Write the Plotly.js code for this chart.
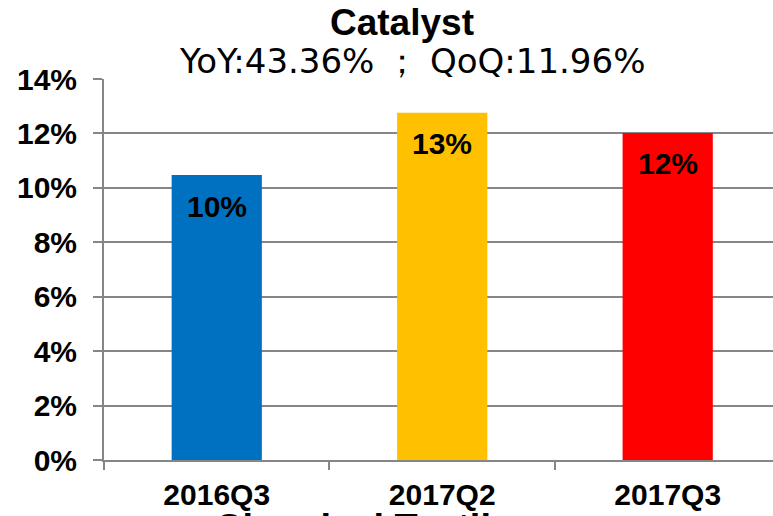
<!DOCTYPE html>
<html>
<head>
<meta charset="utf-8">
<script src="https://cdn.plot.ly/plotly-3.0.1.min.js"></script>
<style>html,body{margin:0;padding:0;background:#fff;}#chart{width:773px;height:516px;}</style>
</head>
<body>
<div id="chart"></div>
<script>
const categories = ["2016Q3", "2017Q2", "2017Q3"];
const values = [10.47, 12.76, 12.02];
const barColors = ["#0070C0", "#FFC000", "#FF0000"];
const yTickVals = [0, 2, 4, 6, 8, 10, 12, 14];
const chartTitle = "Catalyst";
const subTitle = "YoY:43.36% \uFF1B QoQ:11.96%";
const nextTitle = "Chemical Textile";

const bold = "Liberation Sans, Arial, sans-serif";
const gray = "#868686";

const trace = {
  type: "bar",
  x: categories,
  y: values,
  width: 0.4,
  marker: {color: barColors, line: {width: 0}},
  hoverinfo: "none",
  textposition: "none"
};

const labelAnns = categories.map((c, i) => ({
  x: c, y: values[i], xref: "x", yref: "y",
  text: "<b>" + Math.round(values[i]) + "%</b>",
  showarrow: false, yanchor: "middle", yshift: -31,
  font: {family: bold, size: 30, color: "#000"}
}));

const layout = {
  width: 773, height: 516,
  margin: {l: 104, r: 0, t: 79, b: 56, pad: 0},
  paper_bgcolor: "#fff", plot_bgcolor: "#fff",
  showlegend: false,
  bargap: 0.6,
  xaxis: {
    type: "category",
    range: [-0.5, 2.467],
    tickson: "boundaries",
    ticks: "outside", ticklen: 8, tickwidth: 2, tickcolor: gray,
    showline: true, linecolor: gray, linewidth: 2,
    showgrid: false, zeroline: false,
    tickfont: {family: bold, size: 30, color: "#000", weight: "bold"},
    ticklabelstandoff: 7
  },
  yaxis: {
    range: [0, 14],
    tickvals: yTickVals,
    ticktext: yTickVals.map(v => v + "%"),
    ticks: "outside", ticklen: 9, tickwidth: 2, tickcolor: gray,
    showline: true, linecolor: gray, linewidth: 2,
    showgrid: true, gridcolor: gray, gridwidth: 2,
    zeroline: false,
    tickfont: {family: bold, size: 30, color: "#000", weight: "bold"},
    ticklabelstandoff: 10
  },
  annotations: [
    {xref: "paper", yref: "paper", x: (401.5 - 104) / 669, y: 1, yshift: 79 - 22.5,
     xanchor: "center", yanchor: "middle", showarrow: false,
     text: "<b>" + chartTitle + "</b>", font: {family: bold, size: 37, color: "#000"}},
    {xref: "paper", yref: "paper", x: (412 - 104) / 669, y: 1, yshift: 79 - 61,
     xanchor: "center", yanchor: "middle", showarrow: false,
     text: subTitle, font: {family: "DejaVu Sans, Verdana, sans-serif", size: 34, color: "#000"}},
    {xref: "paper", yref: "paper", x: (213 - 104) / 669, y: 0, yshift: -(511 - 460) + 6,
     xanchor: "left", yanchor: "top", showarrow: false,
     text: "<b>" + nextTitle + "</b>", font: {family: bold, size: 38, color: "#000"}},
    ...labelAnns
  ]
};

Plotly.newPlot("chart", [trace], layout, {staticPlot: true, displayModeBar: false});
</script>
</body>
</html>
